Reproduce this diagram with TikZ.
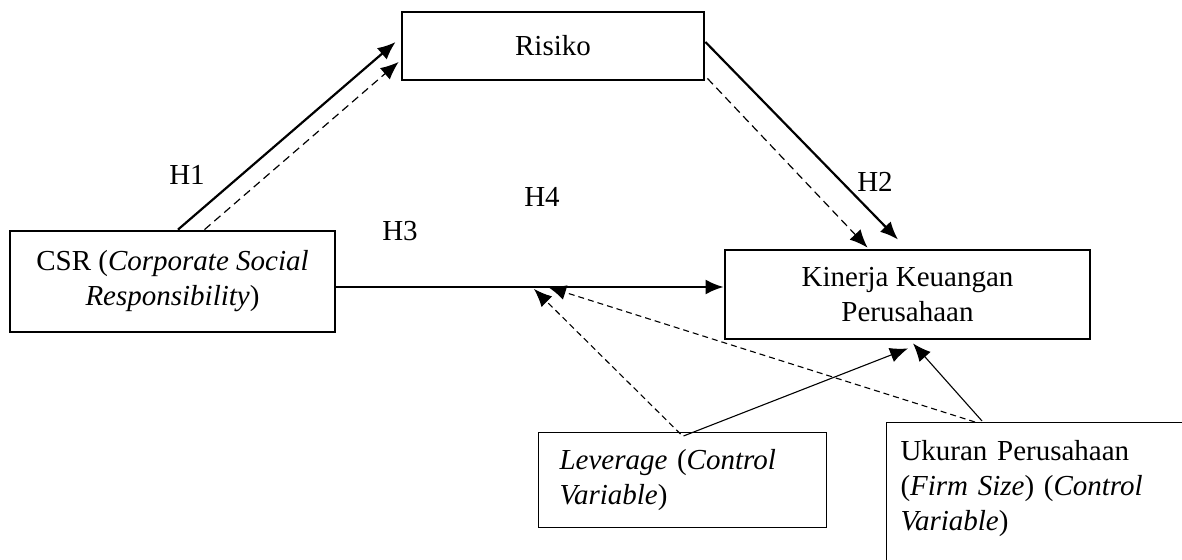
\documentclass[tikz,border=0pt]{standalone}
\usepackage{fontspec}
\setmainfont{Liberation Serif}
\usetikzlibrary{calc,arrows.meta}

\begin{document}
\begin{tikzpicture}[>={Latex[length=9pt,width=7.5pt]},x=0.5pt,y=-0.5pt,
  every node/.style={font=\fontsize{14.5}{17.5}\selectfont},
  box/.style={draw,line width=1.4pt,align=center,inner sep=0pt},
  ctrl/.style={draw,line width=0.5pt,align=left,anchor=north west,inner xsep=10.5pt},
  hyp/.style={->,line width=1.1pt},
  hypd/.style={->,line width=0.6pt,dash pattern=on 4pt off 2.5pt},
  ctrlarrow/.style={->,line width=0.55pt},
  ctrldash/.style={ctrlarrow,dash pattern=on 3pt off 2pt}]
  \useasboundingbox (0,0) rectangle (1182,560);
  \clip (0,0) rectangle (1182,560);
  \node[box,minimum width=151pt,minimum height=34pt] (risiko) at (553,46) {Risiko};
  \node[box,minimum width=162.5pt,minimum height=50.5pt] (csr) at (172.5,281.5) {CSR (\textit{Corporate Social}\\\textit{Responsibility})};
  \node[box,minimum width=182.5pt,minimum height=44.5pt] (kinerja) at (907.5,294.5) {Kinerja Keuangan\\Perusahaan};
  \node[ctrl,text width=123pt,minimum height=47.5pt] (leverage) at (538,432) {\textit{Leverage} (\textit{Control}\\\textit{Variable})};
  \node[ctrl,text width=138pt,inner xsep=7pt,inner ysep=9pt] (ukuran) at (886,422) {Ukuran Perusahaan\\(\textit{Firm Size}) (\textit{Control}\\\textit{Variable})\\[20pt]\strut};
  \node (h1) at (187,175) {H1};
  \node (h2) at (875,182) {H2};
  \node (h3) at (400,231) {H3};
  \node (h4) at (542,197) {H4};
  \coordinate (m1) at (534,289);
  \coordinate (m2) at (548,287);
  \draw[hyp] ($(csr.north)+(5.5,0)$) -- ($(risiko.west)+(-5,-4)$);
  \draw[hypd] ($(csr.north)+(32,0)$) -- ($(risiko.west)+(-2,16)$);
  \draw[hyp] ($(risiko.east)+(0,-4)$) -- ($(kinerja.north)+(-9.5,-9)$);
  \draw[hypd] ($(risiko.south east)+(2,-3)$) -- ($(kinerja.north)+(-40,-1)$);
  \draw[hyp] ($(csr.east)+(0,5.5)$) -- ($(kinerja.west)+(0,-7.5)$);
  \draw[ctrldash] ($(leverage.north)+(-2,2)$) -- (m1);
  \draw[ctrlarrow] ($(leverage.north)+(1,4)$) -- ($(kinerja.south)+(0.5,8)$);
  \draw[ctrlarrow] ($(ukuran.north west)+(96,-1)$) -- ($(kinerja.south)+(5.5,3)$);
  \draw[ctrldash] ($(ukuran.north west)+(89,0)$) -- (m2);
\end{tikzpicture}
\end{document}
